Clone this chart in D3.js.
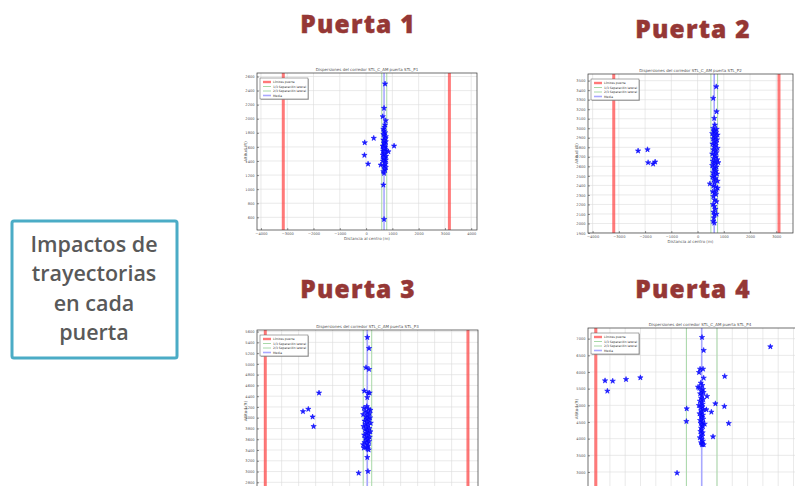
<!DOCTYPE html>
<html><head><meta charset="utf-8">
<script src="https://cdn.jsdelivr.net/npm/d3@7"></script>
<style>html,body{margin:0;padding:0;background:#fff;}svg{display:block;}</style>
</head><body>
<svg id="c" width="795" height="486"></svg>
<script>
// ---------- DATA ----------
const panelTitles = ["Puerta 1", "Puerta 2", "Puerta 3", "Puerta 4"];
const plotTitles = [
  "Dispersiones del corredor STL_C_AM puerta STL_P1",
  "Dispersiones del corredor STL_C_AM puerta STL_P2",
  "Dispersiones del corredor STL_C_AM puerta STL_P3",
  "Dispersiones del corredor STL_C_AM puerta STL_P4"
];
const legendLabels = ["Límites puerta", "1/3 Separación lateral", "2/3 Separación lateral", "Media"];
const sideText = ["Impactos de", "trayectorias", "en cada", "puerta"];
const xLabel = "Distancia al centro (m)";
const yLabel = "Altitud (ft)";

const xTicks1 = [-4000, -3000, -2000, -1000, 0, 1000, 2000, 3000, 4000];
const yTicks1 = [600, 800, 1000, 1200, 1400, 1600, 1800, 2000, 2200, 2400, 2600];
const xTicks2 = [-4000, -3000, -2000, -1000, 0, 1000, 2000, 3000];
const yTicks2 = [1900, 2000, 2100, 2200, 2300, 2400, 2500, 2600, 2700, 2800, 2900, 3000, 3100, 3200, 3300, 3400, 3500];
const xTicks3 = [-3000, -2500, -2000, -1500, -1000, -500, 0, 500, 1000, 1500, 2000, 2500, 3000];
const yTicks3 = [2800, 3000, 3200, 3400, 3600, 3800, 4000, 4200, 4400, 4600, 4800, 5000, 5200, 5400, 5600];
const xTicks4 = [-3500, -3000, -2500, -2000, -1500, -1000, -500, 0, 500, 1000, 1500, 2000, 2500, 3000, 3500];
const yTicks4 = [3000, 3500, 4000, 4500, 5000, 5500, 6000, 6500, 7000];

const gateLimits1 = [-3150, 3170], lateral1 = [597, 787], media1 = 684;
const gateLimits2 = [-3195, 3103], lateral2 = [508, 763], media2 = 634;
const gateLimits3 = [-2980, 2980], lateral3 = [-100, 150], media3 = 20;
const gateLimits4 = [-3460, 3460], lateral4 = [-500, 500], media4 = 0;

const points1 = [[722,2496],[684,2150],[634,2031],[748,1974],[722,1913],[659,1852],[684,1828],[722,1803],[684,1771],[748,1747],[659,1700],[748,1675],[684,1653],[634,1614],[722,1596],[659,1567],[748,1547],[849,1533],[684,1510],[634,1486],[722,1462],[659,1429],[748,1415],[558,1344],[684,1330],[748,1311],[722,1273],[684,1226],[292,1724],[-51,1661],[1065,1614],[-63,1482],[76,1358],[659,1060],[684,572],
  [700,1880],[660,1780],[740,1720],[690,1690],[710,1640],[670,1600],[730,1570],[650,1540],[700,1500],[760,1470],[690,1440],[640,1400],[720,1380],[700,1290],[660,1250],[730,1620],[680,1580],[710,1530],[670,1450],[740,1360]];
const points2 = [[711,3437],[596,3315],[725,3175],[634,3105],[660,3035],[596,3000],[725,2990],[634,2975],
  [-2267,2763],[-1908,2776],[-1885,2640],[-1694,2626],[-1618,2647],
  [640,2965],[700,2955],[560,2945],[760,2930],[620,2920],[680,2905],[590,2890],[740,2880],[650,2865],[710,2850],[570,2835],[690,2820],[630,2805],[760,2790],[600,2775],[670,2760],[720,2745],[560,2730],[650,2715],[700,2700],[610,2685],[750,2670],[580,2655],[680,2640],[640,2625],[790,2640],[560,2610],[720,2595],[610,2580],[660,2565],[700,2550],[590,2535],[740,2520],[640,2505],[570,2490],[690,2475],[620,2460],[760,2445],[650,2430],[469,2417],[763,2372],[600,2395],[680,2385],[720,2350],[580,2335],[640,2320],[700,2305],[600,2284],[650,2249],[720,2230],[590,2200],[640,2179],[680,2150],[610,2120],[640,2092],[720,2099],[620,2060],[600,2022],[640,2005]];
const points3 = [[21,5493],[71,5289],[-18,4932],[71,4900],[-68,4498],[41,4461],[88,4461],[20,4376],
  [-1400,4461],[-1715,4159],[-1871,4116],[-1588,4016],[-1559,3838],
  [20,3263],[40,3004],[-235,2972],
  [5,4209],[-80,4180],[60,4160],[110,4140],[-40,4120],[20,4100],[90,4080],[-100,4060],[40,4040],[-20,4020],[100,4000],[0,3980],[60,3960],[-60,3940],[30,3920],[120,3900],[-30,3880],[50,3860],[-90,3840],[10,3820],[80,3800],[-50,3780],[30,3760],[110,3740],[-10,3720],[60,3700],[-70,3680],[20,3660],[90,3640],[-40,3620],[40,3600],[0,3580],[70,3560],[-60,3540],[20,3520],[-100,3500],[50,3480],[10,3460],[-80,3440],[30,3420],[60,3404]];
const points4 = [[10,7041],[65,6651],[2244,6760],[-54,6090],[44,6090],[-87,5990],[65,5820],[752,5871],
  [-3159,5740],[-2908,5730],[-2473,5780],[-2004,5830],[-3083,5430],
  [-120,5550],[174,5271],[447,5050],[741,4970],[-490,4900],[152,4870],[316,4800],[-500,4520],[98,4440],[882,4460],[370,4060],[20,3820],[-806,2970],
  [-30,5670],[20,5600],[-80,5520],[40,5480],[-10,5430],[60,5390],[-50,5350],[10,5300],[-20,5220],[50,5180],[-60,5130],[0,5090],[30,5040],[-90,5000],[20,4960],[-40,4920],[60,4880],[-10,4840],[10,4790],[-70,4750],[40,4710],[-20,4670],[0,4630],[50,4590],[-50,4550],[20,4500],[-30,4460],[10,4420],[40,4370],[-20,4320],[0,4270],[-40,4220],[30,4180],[-10,4130],[20,4080],[-60,4030],[0,3980],[40,3930],[-20,3880],[10,3840],[65,3820]];

// ---------- LAYOUT ----------
const panels = [
  {title: panelTitles[0], tx: 358, ty: 33, plotTitle: plotTitles[0], box: {l: 257, r: 477, t: 73, b: 230}, xDom: [-4150, 4220], yDom: [420, 2650], xT: xTicks1, yT: yTicks1, gate: gateLimits1, lat: lateral1, med: media1, pts: points1, showX: true},
  {title: panelTitles[1], tx: 693, ty: 38, plotTitle: plotTitles[1], box: {l: 588, r: 793, t: 74, b: 233}, xDom: [-4176, 3637], yDom: [1900, 3570], xT: xTicks2, yT: yTicks2, gate: gateLimits2, lat: lateral2, med: media2, pts: points2, showX: true},
  {title: panelTitles[2], tx: 358, ty: 298, plotTitle: plotTitles[2], box: {l: 257, r: 478, t: 330, b: 492}, xDom: [-3224, 3276], yDom: [2620, 5630], xT: xTicks3, yT: yTicks3, gate: gateLimits3, lat: lateral3, med: media3, pts: points3, showX: false},
  {title: panelTitles[3], tx: 693, ty: 298, plotTitle: plotTitles[3], box: {l: 588, r: 812, t: 328, b: 490}, xDom: [-3716, 3605], yDom: [2460, 7321], xT: xTicks4, yT: yTicks4, gate: gateLimits4, lat: lateral4, med: media4, pts: points4, showX: false}
];

const svg = d3.select("#c");
const defs = svg.append("defs");

// Side text box
svg.append("rect").attr("x", 12).attr("y", 221).attr("width", 165).attr("height", 137)
  .attr("rx", 2).attr("fill", "#fff").attr("stroke", "#4BACC6").attr("stroke-width", 3);
const baselines = [252, 281, 311, 340];
svg.append("g").selectAll("text").data(sideText).join("text")
  .attr("x", 94).attr("y", (d, i) => baselines[i]).attr("text-anchor", "middle")
  .attr("font-family", "Open Sans, sans-serif").attr("font-weight", 600).attr("font-size", 21.5)
  .attr("fill", "#595959").text(d => d);

panels.forEach((p, pi) => {
  const g = svg.append("g");
  // big title
  g.append("text").attr("x", p.tx).attr("y", p.ty).attr("text-anchor", "middle")
    .attr("font-family", "Open Sans, sans-serif").attr("font-weight", 800).attr("font-size", 24.5)
    .attr("letter-spacing", 1.2)
    .attr("fill", "#953735").attr("stroke", "#953735").attr("stroke-width", 0.4).text(p.title);

  const x = d3.scaleLinear().domain(p.xDom).range([p.box.l, p.box.r]);
  const y = d3.scaleLinear().domain(p.yDom).range([p.box.b, p.box.t]);

  const cid = "clip" + pi;
  defs.append("clipPath").attr("id", cid).append("rect")
    .attr("x", p.box.l).attr("y", p.box.t).attr("width", p.box.r - p.box.l).attr("height", p.box.b - p.box.t);

  // plot title
  g.append("text").attr("x", (p.box.l + p.box.r) / 2).attr("y", p.box.t - 2.5).attr("text-anchor", "middle")
    .attr("font-family", "DejaVu Sans, sans-serif").attr("font-size", 4).attr("fill", "#555").text(p.plotTitle);

  const pg = g.append("g").attr("clip-path", `url(#${cid})`);
  // grid
  pg.selectAll("line.gx").data(p.xT).join("line").attr("class", "gx")
    .attr("x1", d => x(d)).attr("x2", d => x(d)).attr("y1", p.box.t).attr("y2", p.box.b)
    .attr("stroke", "#dcdcdc").attr("stroke-width", 0.6);
  pg.selectAll("line.gy").data(p.yT).join("line").attr("class", "gy")
    .attr("x1", p.box.l).attr("x2", p.box.r).attr("y1", d => y(d)).attr("y2", d => y(d))
    .attr("stroke", "#dcdcdc").attr("stroke-width", 0.6);

  // vertical reference lines
  pg.selectAll("line.gate").data(p.gate).join("line").attr("class", "gate")
    .attr("x1", d => x(d)).attr("x2", d => x(d)).attr("y1", p.box.t).attr("y2", p.box.b)
    .attr("stroke", "#ff4040").attr("stroke-opacity", 0.7).attr("stroke-width", 3);
  pg.selectAll("line.lat").data(p.lat).join("line").attr("class", "lat")
    .attr("x1", d => x(d)).attr("x2", d => x(d)).attr("y1", p.box.t).attr("y2", p.box.b)
    .attr("stroke", "#a8d8a8").attr("stroke-width", 1);
  pg.append("line").attr("x1", x(p.med)).attr("x2", x(p.med)).attr("y1", p.box.t).attr("y2", p.box.b)
    .attr("stroke", "#a8a8ff").attr("stroke-width", 1.6);

  // points
  const star = d3.symbol().type(d3.symbolStar).size(9);
  pg.selectAll("path.pt").data(p.pts).join("path").attr("class", "pt")
    .attr("transform", d => `translate(${x(d[0])},${y(d[1])})`)
    .attr("d", star).attr("fill", "#2020ff").attr("stroke", "#0000ff").attr("stroke-width", 0.5);

  // frame
  g.append("rect").attr("x", p.box.l).attr("y", p.box.t).attr("width", p.box.r - p.box.l).attr("height", p.box.b - p.box.t)
    .attr("fill", "none").attr("stroke", "#333").attr("stroke-width", 0.7);

  // axes
  const ay = d3.axisLeft(y).tickValues(p.yT).tickSize(-2).tickPadding(2.5).tickFormat(d3.format("d"));
  const axes = [g.append("g").attr("transform", `translate(${p.box.l},0)`).call(ay)];
  if (p.showX) {
    const ax = d3.axisBottom(x).tickValues(p.xT).tickSize(-2).tickPadding(2.5).tickFormat(d3.format("d"));
    axes.push(g.append("g").attr("transform", `translate(0,${p.box.b})`).call(ax));
    g.append("text").attr("x", (p.box.l + p.box.r) / 2).attr("y", p.box.b + 10).attr("text-anchor", "middle")
      .attr("font-family", "DejaVu Sans, sans-serif").attr("font-size", 4).attr("fill", "#555").text(xLabel);
  }
  axes.forEach(a => {
    a.select(".domain").remove();
    a.selectAll("line").attr("stroke", "#333").attr("stroke-width", 0.5);
    a.selectAll("text").attr("font-size", 3.6).attr("font-family", "DejaVu Sans, sans-serif").attr("fill", "#555");
  });
  g.append("text").attr("transform", `translate(${p.box.l - 10},${(p.box.t + p.box.b) / 2}) rotate(-90)`)
    .attr("text-anchor", "middle").attr("font-family", "DejaVu Sans, sans-serif").attr("font-size", 4)
    .attr("fill", "#555").text(yLabel);

  // legend
  const lx = p.box.l + 3, ly = p.box.t + 5;
  const lg = g.append("g").attr("transform", `translate(${lx},${ly})`);
  lg.append("rect").attr("x", 1).attr("y", 1).attr("width", 48).attr("height", 21).attr("fill", "#999").attr("opacity", 0.6);
  lg.append("rect").attr("width", 48).attr("height", 21).attr("fill", "#fff").attr("stroke", "#555").attr("stroke-width", 0.5);
  const sw = [{c: "#ff4040", w: 2.4, o: 0.7}, {c: "#a8d8a8", w: 1, o: 1}, {c: "#a8d8a8", w: 1, o: 1}, {c: "#a8a8ff", w: 1.6, o: 1}];
  legendLabels.forEach((t, i) => {
    const yy = 4 + i * 4.5;
    lg.append("line").attr("x1", 3).attr("x2", 11).attr("y1", yy).attr("y2", yy)
      .attr("stroke", sw[i].c).attr("stroke-width", sw[i].w).attr("stroke-opacity", sw[i].o);
    lg.append("text").attr("x", 13).attr("y", yy + 1.1).attr("font-size", 3).attr("font-family", "DejaVu Sans, sans-serif")
      .attr("fill", "#333").text(t);
  });
});
</script>
</body></html>
